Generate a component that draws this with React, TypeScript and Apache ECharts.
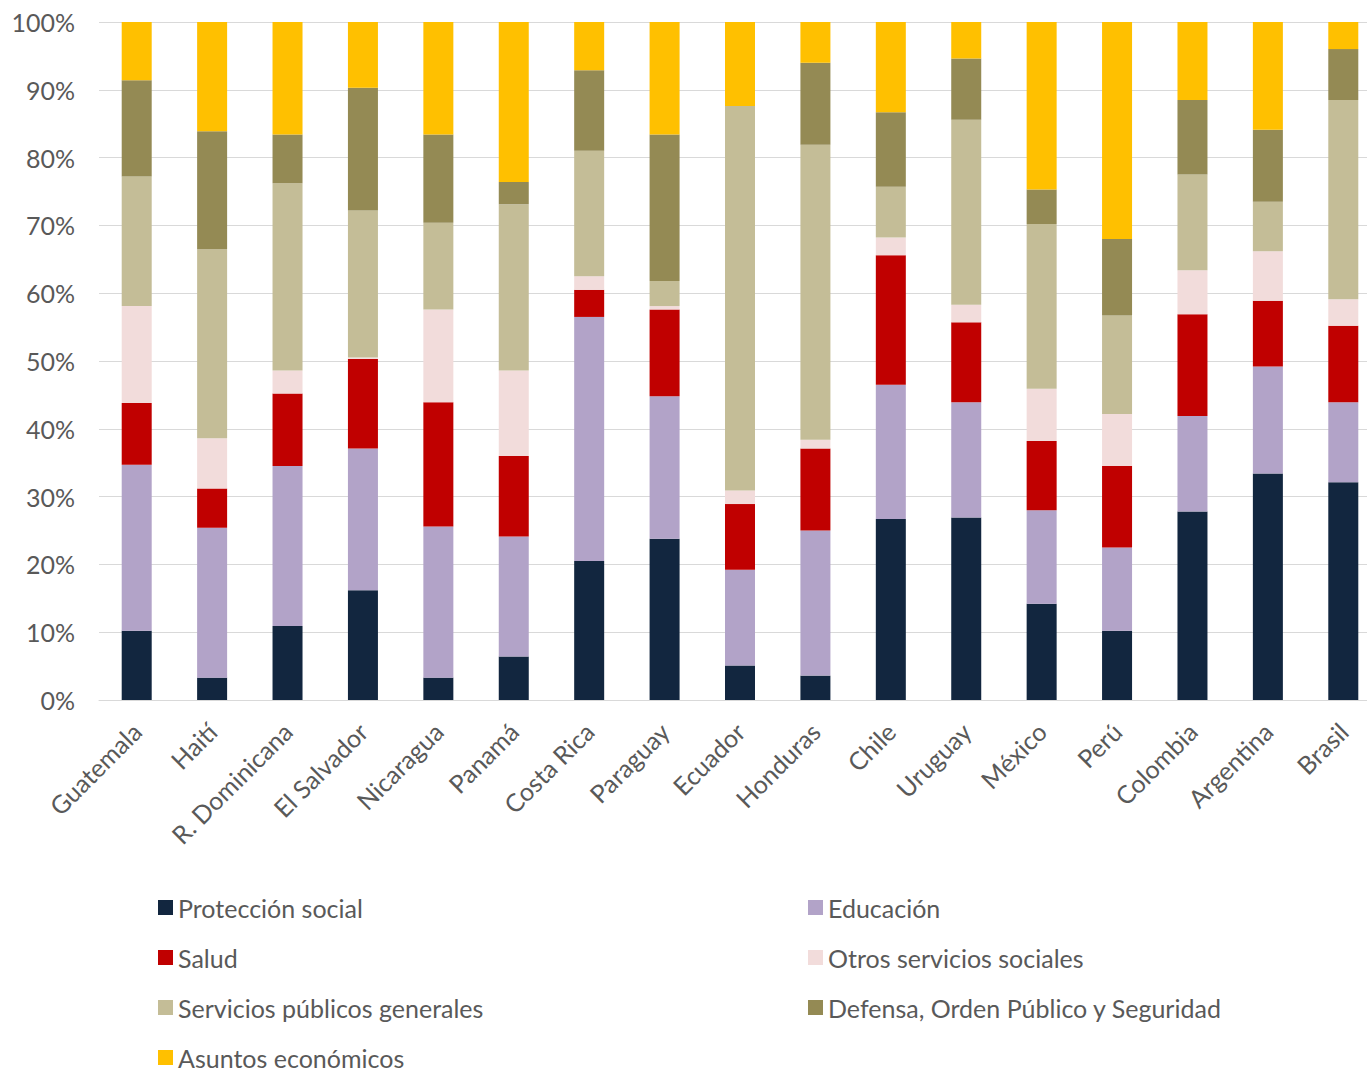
import React, { useEffect, useRef } from "react";
import * as echarts from "echarts";

const categories = [
  "Guatemala", "Haití", "R. Dominicana", "El Salvador", "Nicaragua", "Panamá",
  "Costa Rica", "Paraguay", "Ecuador", "Honduras", "Chile", "Uruguay",
  "México", "Perú", "Colombia", "Argentina", "Brasil",
];

const proteccionSocial = [10.2, 3.3, 10.9, 16.2, 3.3, 6.4, 20.5, 23.8, 5.1, 3.6, 26.7, 26.9, 14.2, 10.2, 27.8, 33.4, 32.1];
const educacion = [24.5, 22.1, 23.6, 20.9, 22.3, 17.7, 36.0, 21.0, 14.1, 21.4, 19.8, 17.0, 13.8, 12.3, 14.1, 15.8, 11.8];
const salud = [9.1, 5.8, 10.7, 13.2, 18.3, 11.9, 4.0, 12.8, 9.7, 12.1, 19.1, 11.8, 10.2, 12.0, 15.0, 9.7, 11.3];
const otrosServicios = [14.3, 7.4, 3.4, 0.2, 13.7, 12.6, 2.0, 0.5, 2.0, 1.3, 2.6, 2.6, 7.7, 7.7, 6.5, 7.3, 3.9];
const serviciosPublicos = [19.1, 27.9, 27.6, 21.7, 12.8, 24.5, 18.5, 3.7, 56.7, 43.5, 7.5, 27.3, 24.3, 14.5, 14.1, 7.3, 29.4];
const defensa = [14.2, 17.4, 7.2, 18.1, 13.0, 3.3, 11.9, 21.6, 0, 12.1, 11.0, 9.0, 5.1, 11.3, 11.0, 10.6, 7.5];
const asuntosEconomicos = [8.6, 16.1, 16.6, 9.7, 16.6, 23.6, 7.1, 16.6, 12.4, 6.0, 13.3, 5.4, 24.7, 32.0, 11.5, 15.9, 4.0];

const seriesNames = [
  "Protección social", "Educación", "Salud", "Otros servicios sociales",
  "Servicios públicos generales", "Defensa, Orden Público y Seguridad", "Asuntos económicos",
];
const seriesData = [proteccionSocial, educacion, salud, otrosServicios, serviciosPublicos, defensa, asuntosEconomicos];
const seriesColors = ["#12263F", "#B2A3C8", "#C00000", "#F2DCDB", "#C4BD97", "#948A54", "#FFC000"];
const yTicks = [0, 10, 20, 30, 40, 50, 60, 70, 80, 90, 100];

const FONT = "Lato";
const TEXT = "#595959";

export default function App() {
  const ref = useRef<HTMLDivElement>(null);
  useEffect(() => {
    if (!ref.current) return;
    const chart = echarts.init(ref.current, undefined, { renderer: "svg" });
    const legendText = { fontFamily: FONT, fontSize: 25, color: TEXT };
    const legendCols = [158, 808];
    const legendRows = [908, 958, 1008, 1058];
    const legends = seriesNames.map((name, i) => ({
      orient: "horizontal",
      left: legendCols[i % 2],
      top: legendRows[Math.floor(i / 2)] - 13,
      itemWidth: 15,
      itemHeight: 15,
      icon: "rect",
      padding: 0,
      textStyle: legendText,
      data: [name],
    }));
    chart.setOption({
      animation: false,
      backgroundColor: "#ffffff",
      grid: {
        left: 99,
        width: 1282,
        top: 22,
        bottom: 371,
        containLabel: false,
        outerBoundsMode: "none",
      },
      xAxis: {
        type: "category",
        data: categories,
        axisLine: { show: true, lineStyle: { color: "#d9d9d9", width: 1 } },
        axisTick: { show: false },
        axisLabel: {
          rotate: 45,
          interval: 0,
          margin: 27,
          fontFamily: FONT,
          fontSize: 25,
          color: TEXT,
        },
      },
      yAxis: {
        type: "value",
        min: yTicks[0],
        max: yTicks[yTicks.length - 1],
        interval: 10,
        axisLine: { show: false },
        axisTick: { show: false },
        splitLine: { lineStyle: { color: "#d9d9d9", width: 1 } },
        axisLabel: {
          formatter: "{value}%",
          margin: 24,
          fontFamily: FONT,
          fontSize: 25,
          color: TEXT,
        },
      },
      legend: legends,
      series: seriesNames.map((name, i) => ({
        name,
        type: "bar",
        stack: "total",
        barWidth: 30,
        data: seriesData[i],
        itemStyle: { color: seriesColors[i] },
        emphasis: { disabled: true },
      })),
    });
    return () => chart.dispose();
  }, []);
  return (
    <div
      ref={ref}
      style={{ position: "fixed", left: 0, top: 0, width: 1367, height: 1071 }}
    />
  );
}
